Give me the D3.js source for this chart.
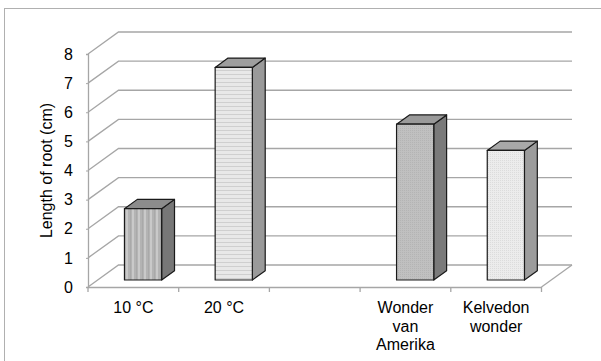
<!DOCTYPE html>
<html>
<head>
<meta charset="utf-8">
<script src="https://cdn.jsdelivr.net/npm/d3@7"></script>
<style>
  html, body { margin: 0; padding: 0; background: #fff; }
  svg { display: block; font-family: "Liberation Sans", Arial, sans-serif; }
</style>
</head>
<body>
<svg id="chart" width="601" height="361"></svg>
<script>
// Root length by temperature and by variety
const categories = ["10 °C", "20 °C", "", "Wonder van Amerika", "Kelvedon wonder"];
const labelLines = [["10 °C"], ["20 °C"], [], ["Wonder", "van", "Amerika"], ["Kelvedon", "wonder"]];
const barCategories = ["10 °C", "20 °C", "Wonder van Amerika", "Kelvedon wonder"];
const rootLength = [2.45, 7.3, 5.35, 4.45];
const yTicks = [0, 1, 2, 3, 4, 5, 6, 7, 8];
const yTitle = "Length of root (cm)";

const svg = d3.select("#chart");

// 3D frame: front plane plus a receding depth offset
const depthX = 30.5, depthY = -22;
const x = d3.scaleBand().domain(categories).range([88, 541.5]).padding(0);
const y = d3.scaleLinear().domain([0, 8]).range([287, 54]);
const gridColor = "#a6a6a6";

// outer frame
svg.append("rect")
  .attr("x", 4.5).attr("y", 8.5).attr("width", 640).attr("height", 400)
  .attr("fill", "none").attr("stroke", "#b0b0b0").attr("stroke-width", 1);

// fill patterns for the bar fronts
const defs = svg.append("defs");
const p1 = defs.append("pattern").attr("id", "vstripe").attr("patternUnits", "userSpaceOnUse")
  .attr("width", 6).attr("height", 4);
p1.append("rect").attr("width", 6).attr("height", 4).attr("fill", "#b3b3b3");
p1.append("rect").attr("x", 0).attr("width", 2).attr("height", 4).attr("fill", "#c9c9c9");
p1.append("rect").attr("x", 4).attr("width", 1).attr("height", 4).attr("fill", "#a9a9a9");

const p2 = defs.append("pattern").attr("id", "hstripe").attr("patternUnits", "userSpaceOnUse")
  .attr("width", 4).attr("height", 4);
p2.append("rect").attr("width", 4).attr("height", 4).attr("fill", "#e8e8e8");
p2.append("rect").attr("y", 2).attr("width", 4).attr("height", 1).attr("fill", "#cfcfcf");

const p3 = defs.append("pattern").attr("id", "dotdark").attr("patternUnits", "userSpaceOnUse")
  .attr("width", 2).attr("height", 2);
p3.append("rect").attr("width", 2).attr("height", 2).attr("fill", "#c0c0c0");
p3.append("rect").attr("width", 1).attr("height", 1).attr("fill", "#b4b4b4");

const p4 = defs.append("pattern").attr("id", "dotlight").attr("patternUnits", "userSpaceOnUse")
  .attr("width", 2).attr("height", 2);
p4.append("rect").attr("width", 2).attr("height", 2).attr("fill", "#ececec");
p4.append("rect").attr("width", 1).attr("height", 1).attr("fill", "#dcdcdc");

const barStyles = [
  { front: "url(#vstripe)", top: "#8c8c8c", side: "#777777" },
  { front: "url(#hstripe)", top: "#9e9e9e", side: "#9a9a9a" },
  { front: "url(#dotdark)", top: "#9a9a9a", side: "#7a7a7a" },
  { front: "url(#dotlight)", top: "#a8a8a8", side: "#9c9c9c" }
];

const x0 = x.range()[0], x1 = x.range()[1];
const grid = svg.append("g").attr("stroke", gridColor).attr("stroke-width", 1.3).attr("fill", "none");

// side wall and back wall gridlines
yTicks.forEach(v => {
  grid.append("path").attr("d", d3.line()([
    [x0, y(v)], [x0 + depthX, y(v) + depthY], [x1 + depthX, y(v) + depthY]
  ]));
});
// floor outline
grid.append("path").attr("d", d3.line()([
  [x1, y(0)], [x1 + depthX, y(0) + depthY]
]));

// value axis
const yAxis = d3.axisLeft(y).tickValues(yTicks).tickSize(2).tickPadding(13).tickFormat(d3.format("d"));
const gy = svg.append("g").attr("transform", `translate(${x0},0)`).call(yAxis);
gy.select(".domain").attr("stroke", gridColor).attr("stroke-width", 1.3);
gy.selectAll(".tick line").attr("stroke", gridColor);
gy.selectAll(".tick text").attr("font-size", 16).attr("fill", "#000")
  .attr("font-family", "'Liberation Sans', Arial, sans-serif");

// category axis along the front floor edge
const xAxis = d3.axisBottom(x).tickSize(0).tickFormat("");
const gx = svg.append("g").attr("transform", `translate(0,${y(0)})`).call(xAxis);
gx.select(".domain").attr("stroke", gridColor).attr("stroke-width", 1.3);
gx.selectAll(".tick").remove();
const bounds = categories.map(c => x(c)).concat([x1]);
gx.selectAll("line.div").data(bounds).join("line")
  .attr("x1", d => d).attr("x2", d => d).attr("y1", 0).attr("y2", 5)
  .attr("stroke", gridColor).attr("stroke-width", 1.3);

// category labels
const labels = svg.append("g").attr("font-size", 16).attr("fill", "#000").attr("text-anchor", "middle");
categories.forEach((c, i) => {
  const t = labels.append("text")
    .attr("x", x(c) + x.bandwidth() / 2)
    .attr("y", 313);
  labelLines[i].forEach((line, j) => {
    t.append("tspan").attr("x", x(c) + x.bandwidth() / 2).attr("dy", j === 0 ? 0 : 18.5).text(line);
  });
});

// value axis title
svg.append("text")
  .attr("transform", `translate(51.5,${(y(0) + y(8)) / 2}) rotate(-90)`)
  .attr("text-anchor", "middle").attr("font-size", 16).attr("fill", "#000")
  .text(yTitle);

// 3D bars
const d0 = 0.318, d1 = 0.74;
const barW = x.bandwidth() * 0.41;
const fdx = depthX * d0, fdy = depthY * d0;
const bdx = depthX * (d1 - d0), bdy = depthY * (d1 - d0);
const bars = svg.append("g").attr("stroke", "#1a1a1a").attr("stroke-width", 1.2).attr("stroke-linejoin", "round");
barCategories.forEach((c, i) => {
  const cx = x(c) + x.bandwidth() / 2 + fdx;
  const bx0 = cx - barW / 2, bx1 = cx + barW / 2;
  const yb = y(0) + fdy, yt = y(rootLength[i]) + fdy;
  const g = bars.append("g");
  g.append("path").attr("fill", barStyles[i].side).attr("d", d3.line()([
    [bx1, yt], [bx1 + bdx, yt + bdy], [bx1 + bdx, yb + bdy], [bx1, yb]
  ]) + "Z");
  g.append("path").attr("fill", barStyles[i].top).attr("d", d3.line()([
    [bx0, yt], [bx0 + bdx, yt + bdy], [bx1 + bdx, yt + bdy], [bx1, yt]
  ]) + "Z");
  g.append("rect").attr("fill", barStyles[i].front)
    .attr("x", bx0).attr("y", yt).attr("width", bx1 - bx0).attr("height", yb - yt);
});
</script>
</body>
</html>
